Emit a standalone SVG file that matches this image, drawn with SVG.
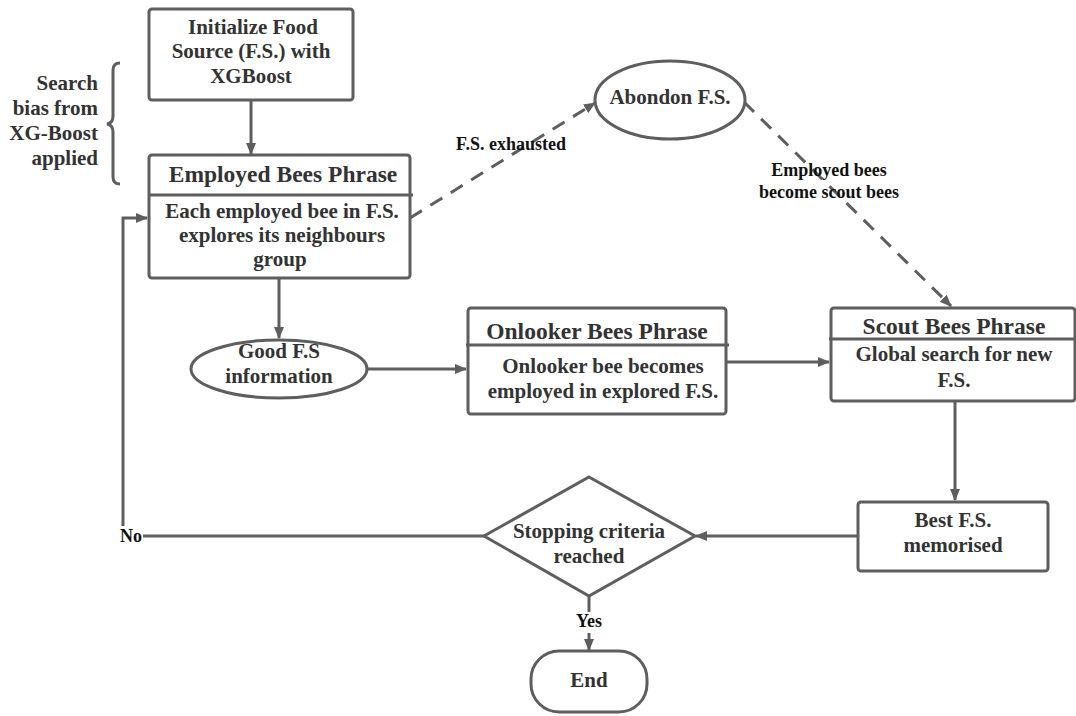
<svg xmlns="http://www.w3.org/2000/svg" width="1076" height="716" viewBox="0 0 1076 716" font-family="'Liberation Serif', 'DejaVu Serif', serif">
  <defs>
    <marker id="arrow" viewBox="0 0 12 10" refX="11" refY="5" markerWidth="12" markerHeight="10" markerUnits="userSpaceOnUse" orient="auto">
      <path d="M0,0 L12,5 L0,10 Z" fill="#5e5e5e"/>
    </marker>
    <style>
      .box { fill: #ffffff; stroke: #5e5e5e; stroke-width: 3; }
      .div { stroke: #5e5e5e; stroke-width: 3; }
      .line { fill: none; stroke: #5e5e5e; stroke-width: 3; }
      .dash { fill: none; stroke: #5e5e5e; stroke-width: 3; stroke-dasharray: 14 10; }
      text { font-family: 'Liberation Serif', 'DejaVu Serif', serif; font-weight: bold; }
      .t { fill: #333333; text-anchor: middle; font-size: 21px; }
      .title { font-size: 23.5px; }
      .lbl { fill: #111111; text-anchor: middle; font-size: 18px; }
    </style>
  </defs>

  <!-- connectors -->
  <g id="connectors">
    <line class="line" x1="251" y1="100" x2="251" y2="154" marker-end="url(#arrow)"/>
    <line class="line" x1="279" y1="279" x2="279" y2="338" marker-end="url(#arrow)"/>
    <line class="line" x1="367" y1="369" x2="466" y2="369" marker-end="url(#arrow)"/>
    <line class="line" x1="727" y1="362" x2="829" y2="362" marker-end="url(#arrow)"/>
    <line class="line" x1="955" y1="401" x2="955" y2="500" marker-end="url(#arrow)"/>
    <line class="line" x1="858" y1="536" x2="696" y2="536" marker-end="url(#arrow)"/>
    <!-- "No" loop back to the employed phase -->
    <line class="line" x1="484" y1="536" x2="143" y2="536"/>
    <polyline class="line" points="123,526 123,218 147,218" marker-end="url(#arrow)"/>
    <text class="lbl" x="131" y="542">No</text>
    <!-- "Yes" to end -->
    <line class="line" x1="589" y1="596" x2="589" y2="612"/>
    <line class="line" x1="589" y1="633" x2="589" y2="650" marker-end="url(#arrow)"/>
    <text class="lbl" x="589" y="627">Yes</text>
    <!-- dashed abandon path -->
    <line class="dash" x1="410" y1="218" x2="595" y2="103" marker-end="url(#arrow)"/>
    <text class="lbl" x="511" y="150">F.S. exhausted</text>
    <line class="dash" x1="744" y1="102" x2="951" y2="306" marker-end="url(#arrow)"/>
    <text class="lbl" x="829" y="176">Employed bees</text>
    <text class="lbl" x="829" y="198">become scout bees</text>
  </g>

  <!-- side note with brace -->
  <g id="search-bias">
    <path class="line" d="M120,63 Q113,63 113,70 L113,116 Q113,123 107,124 Q113,125 113,132 L113,177 Q113,184 120,184"/>
    <text class="t" x="98" y="90" style="text-anchor:end">Search</text>
    <text class="t" x="98" y="115" style="text-anchor:end">bias from</text>
    <text class="t" x="98" y="140" style="text-anchor:end">XG-Boost</text>
    <text class="t" x="98" y="165" style="text-anchor:end">applied</text>
  </g>

  <g id="init">
    <rect class="box" x="149" y="9" width="204" height="91" rx="3"/>
    <text class="t" x="253" y="34">Initialize Food</text>
    <text class="t" x="251" y="58">Source (F.S.) with</text>
    <text class="t" x="251" y="83">XGBoost</text>
  </g>

  <g id="employed">
    <rect class="box" x="149" y="155" width="261" height="123" rx="3"/>
    <line class="div" x1="149" y1="195" x2="413" y2="195"/>
    <text class="t title" x="283" y="182">Employed Bees Phrase</text>
    <text class="t" x="282" y="218">Each employed bee in F.S.</text>
    <text class="t" x="282" y="242">explores its neighbours</text>
    <text class="t" x="280" y="266">group</text>
  </g>

  <g id="abandon">
    <ellipse class="box" cx="670" cy="100" rx="75" ry="39"/>
    <text class="t" x="670" y="104">Abondon F.S.</text>
  </g>

  <g id="good-fs">
    <ellipse class="box" cx="279" cy="369" rx="88" ry="29"/>
    <text class="t" x="279" y="358">Good F.S</text>
    <text class="t" x="279" y="383">information</text>
  </g>

  <g id="onlooker">
    <rect class="box" x="468" y="308" width="258" height="106" rx="3"/>
    <line class="div" x1="466" y1="345" x2="729" y2="345"/>
    <text class="t title" x="597" y="339">Onlooker Bees Phrase</text>
    <text class="t" x="603" y="373">Onlooker bee becomes</text>
    <text class="t" x="603" y="398">employed in explored F.S.</text>
  </g>

  <g id="scout">
    <rect class="box" x="831" y="308" width="244" height="93" rx="3"/>
    <line class="div" x1="829" y1="339" x2="1075" y2="339"/>
    <text class="t title" x="954" y="334">Scout Bees Phrase</text>
    <text class="t" x="954" y="361">Global search for new</text>
    <text class="t" x="954" y="387">F.S.</text>
  </g>

  <g id="best">
    <rect class="box" x="858" y="502" width="190" height="69" rx="3"/>
    <text class="t" x="953" y="527">Best F.S.</text>
    <text class="t" x="953" y="552">memorised</text>
  </g>

  <g id="stopping">
    <polygon class="box" points="589,477 695,536 589,596 484,536"/>
    <text class="t" x="589" y="538">Stopping criteria</text>
    <text class="t" x="589" y="563">reached</text>
  </g>

  <g id="end">
    <rect class="box" x="531" y="651" width="116" height="61" rx="28"/>
    <text class="t" x="589" y="687">End</text>
  </g>
</svg>
